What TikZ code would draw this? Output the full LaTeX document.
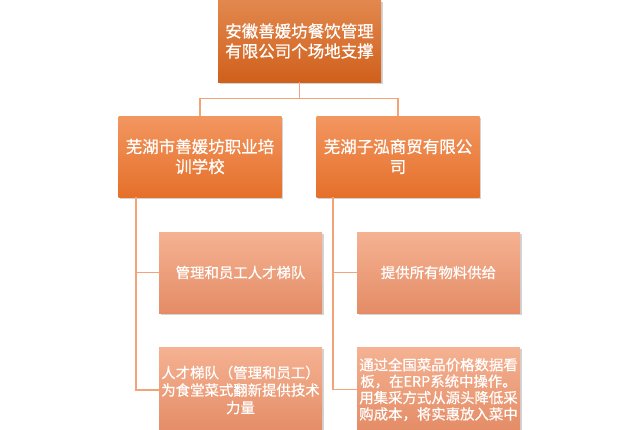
\documentclass[tikz,border=0pt]{standalone}
\usepackage{fontspec}
\setmainfont{Noto Sans CJK SC}[FakeBold=0.6]
\usetikzlibrary{shadows}
\definecolor{topT}{HTML}{E2884E}
\definecolor{topB}{HTML}{D0601C}
\definecolor{midT}{HTML}{F29660}
\definecolor{midB}{HTML}{E5702A}
\definecolor{lowT}{HTML}{F5B292}
\definecolor{lowB}{HTML}{E48C66}
\definecolor{linkc}{HTML}{F2A478}
\tikzset{
  boxbase/.style={rectangle, minimum width=163pt, minimum height=81pt, inner sep=2pt,
    align=center, text=white, drop shadow={shadow xshift=1.5pt, shadow yshift=-2pt, opacity=0.35}},
  topbox/.style={boxbase, top color=topT, bottom color=topB, font=\fontsize{16.5}{20}\selectfont},
  midbox/.style={boxbase, top color=midT, bottom color=midB, font=\fontsize{16.5}{20}\selectfont},
  lowbox/.style={boxbase, top color=lowT, bottom color=lowB, font=\fontsize{14.4}{17.5}\selectfont},
  link/.style={draw=linkc, line width=1.3pt}
}
\begin{document}
\begin{tikzpicture}[x=1pt,y=-1pt]
\useasboundingbox (0,0) rectangle (640,429);
\node[topbox, minimum height=82pt] (top) at (299.5,41) {安徽善媛坊餐饮管理\\有限公司个场地支撑};
\node[midbox] (schl) at (200,156.5) {芜湖市善媛坊职业培\\训学校};
\node[midbox] (comp) at (398,156.5) {芜湖子泓商贸有限公\\司};
\node[lowbox] (la) at (240.5,272.5) {管理和员工人才梯队};
\node[lowbox, minimum height=86pt] (lb) at (240.5,390) {人才梯队（管理和员工）\\为食堂菜式翻新提供技术\\力量};
\node[lowbox] (ra) at (438.5,272.5) {提供所有物料供给};
\node[lowbox, minimum height=85pt, font=\fontsize{14.4}{16.4}\selectfont] (rb) at (438.5,389.5) {通过全国菜品价格数据看\\板，在ERP系统中操作。\\用集采方式从源头降低采\\购成本，将实惠放入菜中};
\coordinate (bus) at (299.5,98.5);
\coordinate (ltrunk) at (136,197);
\coordinate (rtrunk) at (333,197);
\draw[link] (top.south) -- (bus);
\draw[link] (schl.north) |- (bus) -| (comp.north);
\draw[link] (ltrunk) |- (la.west);
\draw[link] (ltrunk |- la.west) |- (lb.west);
\draw[link] (rtrunk) |- (ra.west);
\draw[link] (rtrunk |- ra.west) |- (rb.west);
\end{tikzpicture}
\end{document}
